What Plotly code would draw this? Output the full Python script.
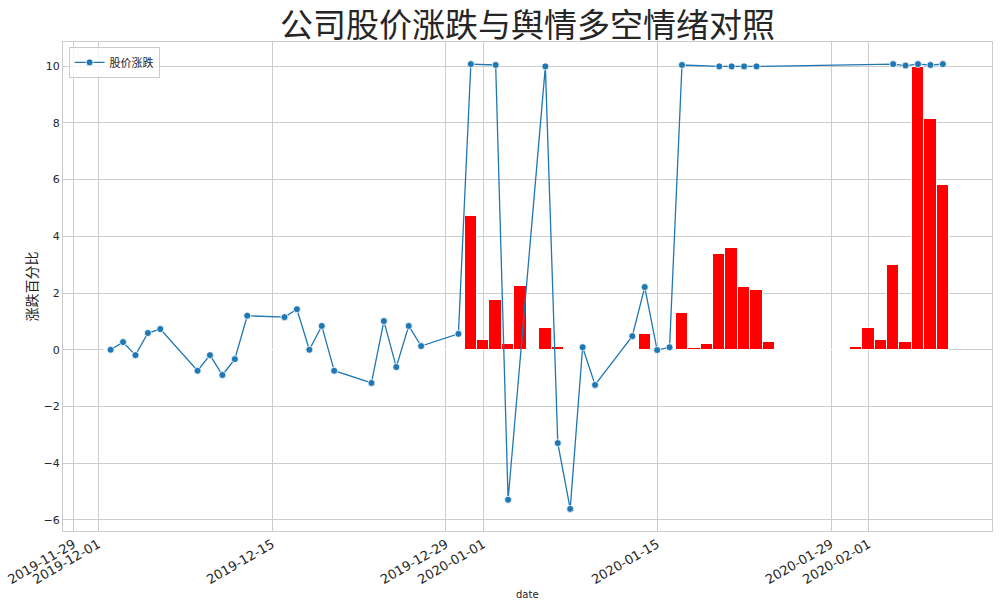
import pandas as pd
import plotly.graph_objects as go

# ---------------- data ----------------
stock_dates = [
    "2019-12-02", "2019-12-03", "2019-12-04", "2019-12-05", "2019-12-06",
    "2019-12-09", "2019-12-10", "2019-12-11", "2019-12-12", "2019-12-13",
    "2019-12-16", "2019-12-17", "2019-12-18", "2019-12-19", "2019-12-20",
    "2019-12-23", "2019-12-24", "2019-12-25", "2019-12-26", "2019-12-27",
    "2019-12-30", "2019-12-31",
    "2020-01-02", "2020-01-03", "2020-01-06", "2020-01-07", "2020-01-08",
    "2020-01-09", "2020-01-10", "2020-01-13", "2020-01-14", "2020-01-15",
    "2020-01-16", "2020-01-17", "2020-01-20", "2020-01-21", "2020-01-22",
    "2020-01-23",
    "2020-02-03", "2020-02-04", "2020-02-05", "2020-02-06", "2020-02-07",
]
stock_change = [
    0.0, 0.27, -0.19, 0.59, 0.73,
    -0.74, -0.19, -0.89, -0.33, 1.20,
    1.15, 1.43, 0.0, 0.84, -0.74,
    -1.17, 1.01, -0.61, 0.84, 0.13,
    0.56, 10.07,
    10.04, -5.29, 9.99, -3.29, -5.61,
    0.09, -1.24, 0.48, 2.21, -0.01,
    0.09, 10.04, 9.99, 9.99, 9.99,
    9.99,
    10.07, 10.02, 10.07, 10.04, 10.07,
]

sentiment_dates = pd.date_range("2019-12-02", "2020-02-07", freq="D")
sentiment_values = (
    [0.0] * 29                                   # 2019-12-02 .. 2019-12-30
    + [4.72]                                     # 2019-12-31
    + [0.36, 1.77, 0.19, 2.26, 0.0, 0.75, 0.08, 0.03,   # Jan 1-8
       0.0, 0.0, 0.0, 0.0, 0.0, 0.54, 0.0, 0.0,         # Jan 9-16
       1.31, 0.05, 0.19, 3.36, 3.60, 2.23, 2.12, 0.29,  # Jan 17-24
       0.0, 0.0, 0.0, 0.0, 0.0, 0.0, 0.08]              # Jan 25-31
    + [0.75, 0.36, 2.99, 0.29, 9.98, 8.14, 5.82]        # Feb 1-7
)

tick_dates = ["2019-11-29", "2019-12-01", "2019-12-15", "2019-12-29",
              "2020-01-01", "2020-01-15", "2020-01-29", "2020-02-01"]
y_ticks = [-6, -4, -2, 0, 2, 4, 6, 8, 10]

title_text = "公司股价涨跌与舆情多空情绪对照"
line_name = "股价涨跌"
y_title = "涨跌百分比"
x_title = "date"

# ---------------- figure ----------------
CJK = "Noto Sans CJK SC, DejaVu Sans, sans-serif"
TXT = "#262626"
GRID = "#cccccc"

fig = go.Figure()

fig.add_trace(go.Bar(
    x=sentiment_dates, y=sentiment_values,
    width=86400000,
    marker=dict(color="red", line=dict(color="white", width=1)),
    showlegend=False, hoverinfo="x+y",
))

fig.add_trace(go.Scatter(
    x=pd.to_datetime(stock_dates), y=stock_change,
    mode="lines+markers", name=line_name,
    line=dict(color="#1f77b4", width=1.3),
    marker=dict(color="#1f77b4", size=7, line=dict(color="white", width=0.8)),
))

fig.update_layout(
    width=1006, height=606,
    paper_bgcolor="white", plot_bgcolor="white",
    margin=dict(l=63, r=14, t=42, b=75, autoexpand=False),
    font=dict(family=CJK, color=TXT),
    title=dict(text=title_text, x=0.5, xref="paper", xanchor="center",
               y=0.958, yref="container", yanchor="middle",
               font=dict(family=CJK, size=33, color=TXT), automargin=False),
    legend=dict(x=0.006, y=0.99, xanchor="left", yanchor="top",
                bgcolor="rgba(255,255,255,0.8)", bordercolor=GRID, borderwidth=1,
                itemwidth=30, tracegroupgap=0,
                font=dict(family=CJK, size=11, color=TXT)),
    bargap=0,
)

# x-axis title placed as a paper annotation just below the tick labels
fig.add_annotation(
    text=x_title, xref="paper", yref="paper", x=0.5, y=-0.129,
    xanchor="center", yanchor="middle", showarrow=False,
    font=dict(family="DejaVu Sans, sans-serif", size=10, color=TXT),
)

fig.update_xaxes(
    type="date", automargin=False,
    range=["2019-11-28 04:00", "2020-02-10 23:00"],
    tickmode="array",
    tickvals=tick_dates,
    ticktext=tick_dates,
    tickangle=-30,
    tickfont=dict(family="DejaVu Sans, sans-serif", size=13, color=TXT),
    showgrid=True, gridcolor=GRID, gridwidth=1,
    showline=True, linecolor=GRID, linewidth=1, mirror=True,
    zeroline=False, ticks="",
)

fig.update_yaxes(
    automargin=False,
    range=[-6.39, 10.85],
    tickmode="array", tickvals=y_ticks,
    tickfont=dict(family="DejaVu Sans, sans-serif", size=11, color=TXT),
    showgrid=True, gridcolor=GRID, gridwidth=1,
    showline=True, linecolor=GRID, linewidth=1, mirror=True,
    zeroline=False, ticks="",
    title=dict(text=y_title, font=dict(family=CJK, size=14, color=TXT), standoff=2),
)

fig.write_html("out.html",
               config={"displayModeBar": False},
               post_script="document.body.style.margin='0';document.body.style.overflow='hidden';")
